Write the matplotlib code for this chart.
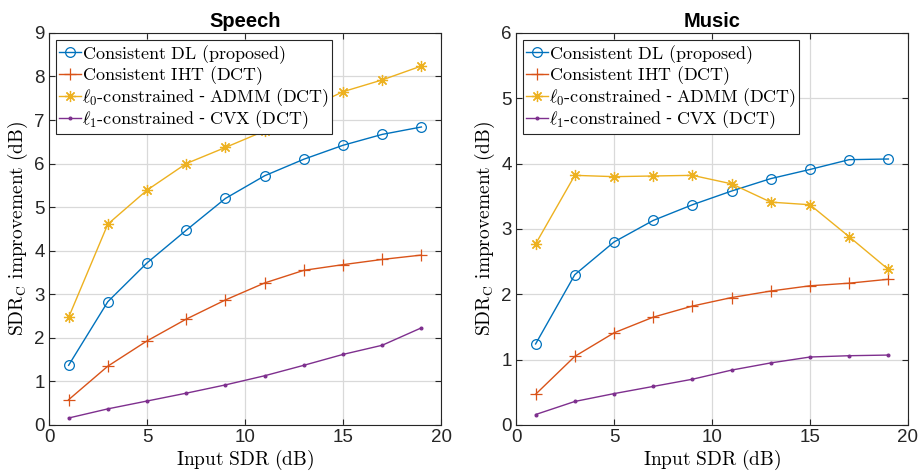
import numpy as np
import matplotlib.pyplot as plt

plt.rcParams['mathtext.fontset'] = 'cm'
plt.rcParams['font.family'] = ['Liberation Sans', 'DejaVu Sans']

# 入力SDR (dB)
snr_in = [1, 3, 5, 7, 9, 11, 13, 15, 17, 19]

# Speech
speech_dl = [1.37, 2.83, 3.72, 4.47, 5.20, 5.72, 6.10, 6.42, 6.67, 6.84]
speech_iht = [0.58, 1.35, 1.93, 2.43, 2.87, 3.26, 3.55, 3.68, 3.80, 3.90]
speech_admm = [2.47, 4.61, 5.39, 6.00, 6.37, 6.75, 7.22, 7.65, 7.92, 8.24]
speech_cvx = [0.16, 0.37, 0.55, 0.73, 0.92, 1.13, 1.37, 1.62, 1.83, 2.23]

# Music
music_dl = [1.24, 2.30, 2.80, 3.13, 3.37, 3.58, 3.77, 3.91, 4.06, 4.07]
music_iht = [0.47, 1.05, 1.41, 1.65, 1.82, 1.95, 2.05, 2.13, 2.17, 2.23]
music_admm = [2.77, 3.82, 3.80, 3.81, 3.82, 3.69, 3.41, 3.37, 2.88, 2.38]
music_cvx = [0.16, 0.36, 0.48, 0.59, 0.70, 0.84, 0.95, 1.04, 1.06, 1.07]

labels = [r'$\mathrm{Consistent\ DL\ (proposed)}$',
          r'$\mathrm{Consistent\ IHT\ (DCT)}$',
          r'$\ell_0\mathrm{\text{-}constrained}$ - $\mathrm{ADMM\ (DCT)}$',
          r'$\ell_1\mathrm{\text{-}constrained}$ - $\mathrm{CVX\ (DCT)}$']
colors = ['#0072BD', '#D95319', '#EDB120', '#7E2F8E']
markers = [dict(marker='o', markersize=7, markerfacecolor='none'),
           dict(marker='+', markersize=8),
           dict(marker=(8, 2, 0), markersize=8),
           dict(marker='.', markersize=4)]

fig = plt.figure(figsize=(9.18, 4.73), dpi=100)
ax1 = fig.add_axes([0.0534, 0.1015, 0.427, 0.829])
ax2 = fig.add_axes([0.5621, 0.1015, 0.427, 0.829])

panels = [(ax1, 'Speech', [speech_dl, speech_iht, speech_admm, speech_cvx], 9),
          (ax2, 'Music', [music_dl, music_iht, music_admm, music_cvx], 6)]

for ax, title, series, ymax in panels:
    for ys, lab, c, m in zip(series, labels, colors, markers):
        ax.plot(snr_in, ys, color=c, linewidth=1.0, label=lab,
                markeredgecolor=c, markeredgewidth=0.9, **m)
    ax.set_xlim(0, 20)
    ax.set_ylim(0, ymax)
    ax.set_xticks([0, 5, 10, 15, 20])
    ax.set_yticks(range(0, ymax + 1))
    ax.grid(True, color='#d9d9d9', linewidth=0.9)
    ax.set_axisbelow(True)
    ax.tick_params(direction='in', top=True, right=True, labelsize=13.5,
                   colors='#262626', length=4, pad=3)
    for s in ax.spines.values():
        s.set_color('#262626')
        s.set_linewidth(0.8)
    ax.set_title(title, fontsize=14.5, fontweight='bold', pad=4)
    ax.set_xlabel(r'$\mathrm{Input\ SDR\ (dB)}$', fontsize=14, labelpad=1)
    ax.set_ylabel(r'$\mathrm{SDR_C\ improvement\ (dB)}$', fontsize=14, labelpad=3)
    leg = ax.legend(loc='upper left', fontsize=13, frameon=True, fancybox=False,
                    borderpad=0.15, labelspacing=-0.05, handlelength=1.2,
                    handletextpad=0.1, borderaxespad=0.4)
    leg.get_frame().set_edgecolor('#262626')
    leg.get_frame().set_linewidth(0.8)
    leg.get_frame().set_alpha(1)

fig.savefig('out.png', dpi=100)
